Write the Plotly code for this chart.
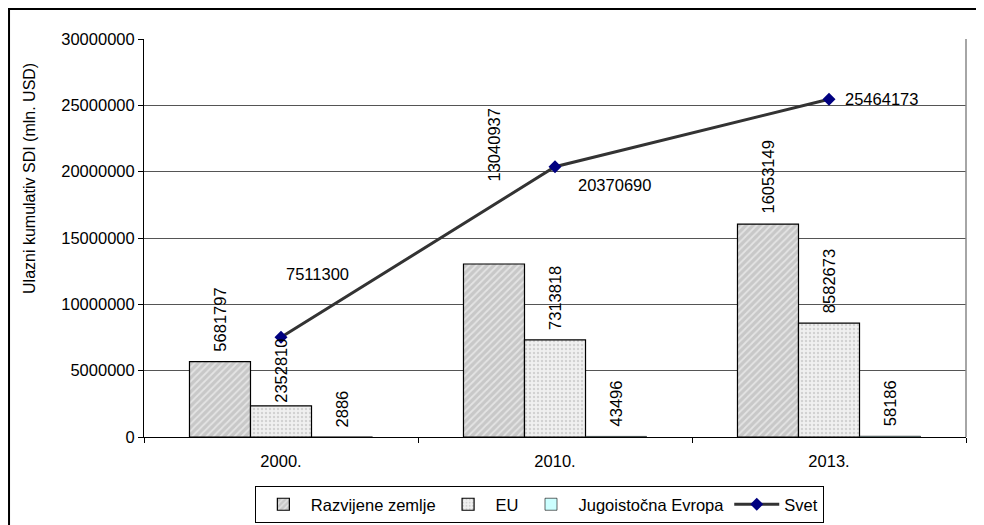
import plotly.graph_objects as go

categories = ["2000.", "2010.", "2013."]
razvijene = [5681797, 13040937, 16053149]
eu = [2352810, 7313818, 8582673]
jie = [2886, 43496, 58186]
svet = [7511300, 20370690, 25464173]
y_ticks = [0, 5000000, 10000000, 15000000, 20000000, 25000000, 30000000]

FONT = "Liberation Sans, Arial, sans-serif"
FS = 16.5

fig = go.Figure()
fig.add_trace(go.Bar(
    name="Razvijene zemlje", x=categories, y=razvijene,
    marker=dict(color="#d4d4d4", line=dict(color="black", width=1.2),
                pattern=dict(shape="/", fgcolor="white", bgcolor="#c8c8c8", size=5, solidity=0.35)),
))
fig.add_trace(go.Bar(
    name="EU", x=categories, y=eu,
    marker=dict(color="#eeeeee", line=dict(color="black", width=1.2),
                pattern=dict(shape=".", fgcolor="#b4b4b4", bgcolor="#f0f0f0", size=4, solidity=0.3)),
))
fig.add_trace(go.Bar(
    name="Jugoistočna Evropa", x=categories, y=jie,
    marker=dict(color="#ccffff", line=dict(color="black", width=0.6)),
))
fig.add_trace(go.Scatter(
    name="Svet", x=categories, y=svet, mode="lines+markers",
    line=dict(color="#333333", width=3),
    marker=dict(symbol="diamond", color="#000080", size=10),
))

# bar value labels (rotated): offset of each series within a group (category units)
bar_offsets = [-0.2226, 0.0, 0.2226]
# vertical label gaps in px, per series then per category
bar_shifts = [[8, 80, 8], [1, 8, 8], [8, 8, 8]]
series_vals = [razvijene, eu, jie]
for s, vals in enumerate(series_vals):
    for i, v in enumerate(vals):
        fig.add_annotation(
            x=i + bar_offsets[s], y=v, text=str(v), showarrow=False,
            textangle=-90, xanchor="center", yanchor="bottom",
            yshift=bar_shifts[s][i],
            font=dict(family=FONT, size=FS, color="black"),
        )

line_shifts = [(3, 63), (21, -18), (14, 0)]
for i, v in enumerate(svet):
    fig.add_annotation(
        x=i, y=v, text=str(v), showarrow=False, xanchor="left", yanchor="middle",
        xshift=line_shifts[i][0], yshift=line_shifts[i][1],
        font=dict(family=FONT, size=FS, color="black"),
    )

# y title
fig.add_annotation(
    xref="paper", yref="paper", x=-0.1387, y=0.6508, text="Ulazni kumulativ SDI (mln. USD)",
    textangle=-90, showarrow=False, xanchor="center", yanchor="middle",
    font=dict(family=FONT, size=16, color="black"),
)

# outer frame and plot right edge
fig.add_shape(type="rect", xref="paper", yref="paper", x0=-0.1642, x1=1.0146, y0=-0.3, y1=1.0754,
              line=dict(color="black", width=2), fillcolor="rgba(0,0,0,0)", layer="below")
fig.add_shape(type="line", xref="paper", yref="paper", x0=1, x1=1, y0=0, y1=1,
              line=dict(color="#888888", width=1.5))

fig.update_layout(
    width=984, height=525,
    margin=dict(l=136, r=26, t=31, b=96, autoexpand=False),
    paper_bgcolor="white", plot_bgcolor="white",
    barmode="group", bargap=0.332, bargroupgap=0,
    font=dict(family=FONT, size=FS, color="black"),
    showlegend=True,
    legend=dict(orientation="h", xref="container", yref="container",
                x=0.540, xanchor="center", y=0.0895, yanchor="top",
                bordercolor="black", borderwidth=1, font=dict(size=FS),
                itemwidth=45, tracegroupgap=0),
    xaxis=dict(type="category", showline=True, linecolor="black", linewidth=1,
               ticks="outside", tickson="boundaries", ticklen=5, tickcolor="black",
               ticklabelstandoff=9, range=[-0.5, 2.5], automargin=False),
    yaxis=dict(range=[0, 30000000], tickvals=y_ticks, ticktext=[str(t) for t in y_ticks],
               showgrid=True, gridcolor="#555555", gridwidth=1,
               showline=True, linecolor="black", linewidth=1, automargin=False,
               ticks="outside", ticklen=5, tickcolor="black", zeroline=False),
)

fig.write_html("out.html")
